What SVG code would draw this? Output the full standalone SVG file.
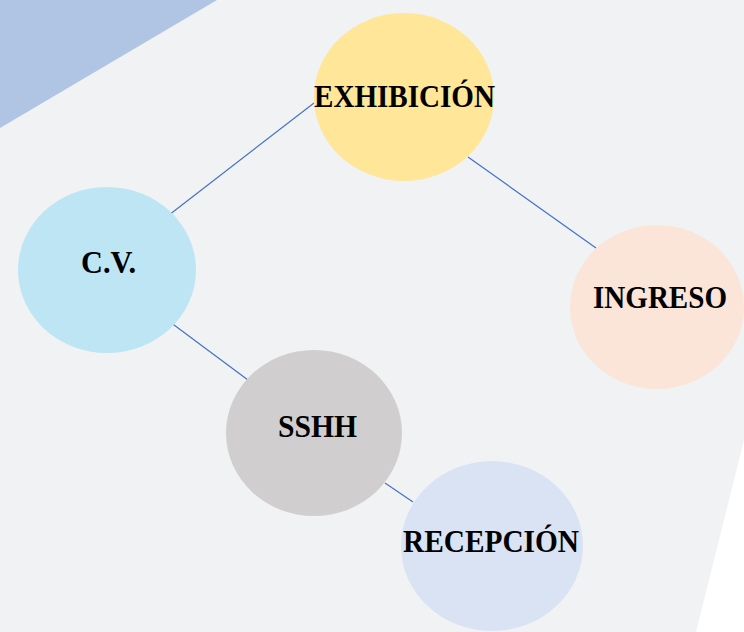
<svg xmlns="http://www.w3.org/2000/svg" width="744" height="632" viewBox="0 0 744 632">
<style>
.lbl{font-family:"Liberation Serif","Times New Roman",serif;font-weight:bold;font-size:31px;fill:#000;text-anchor:middle}
.edge{stroke:#4472c4;stroke-width:1.2;fill:none}
</style>
<rect x="0" y="0" width="744" height="632" fill="#f1f2f4"/>
<polygon points="0,0 217,0 0,128" fill="#b0c4e4"/>
<polygon points="744,440 744,632 696,632" fill="#ffffff"/>
<g id="connectors">
<line class="edge" x1="169" y1="215" x2="314" y2="103"/>
<line class="edge" x1="468" y1="157" x2="596" y2="248"/>
<line class="edge" x1="170" y1="322" x2="248" y2="380"/>
<line class="edge" x1="385" y1="483" x2="413" y2="502"/>
</g>
<g id="exhibicion">
<ellipse cx="404" cy="97" rx="90" ry="84" fill="#ffe699"/>
<text class="lbl" x="404.5" y="107" textLength="181" lengthAdjust="spacingAndGlyphs">EXHIBICIÓN</text>
</g>
<g id="cv">
<ellipse cx="107" cy="270" rx="89" ry="83" fill="#bde5f4"/>
<text class="lbl" x="108.5" y="273" textLength="55" lengthAdjust="spacingAndGlyphs">C.V.</text>
</g>
<g id="ingreso">
<ellipse cx="657" cy="307" rx="87" ry="82" fill="#fbe5d8"/>
<text class="lbl" x="660" y="308" textLength="134" lengthAdjust="spacingAndGlyphs">INGRESO</text>
</g>
<g id="sshh">
<ellipse cx="314" cy="433" rx="88" ry="83" fill="#d0cecf"/>
<text class="lbl" x="317.5" y="437" textLength="79" lengthAdjust="spacingAndGlyphs">SSHH</text>
</g>
<g id="recepcion">
<ellipse cx="492" cy="546" rx="91" ry="85" fill="#dae3f3"/>
<text class="lbl" x="491" y="552" textLength="176" lengthAdjust="spacingAndGlyphs">RECEPCIÓN</text>
</g>
</svg>
